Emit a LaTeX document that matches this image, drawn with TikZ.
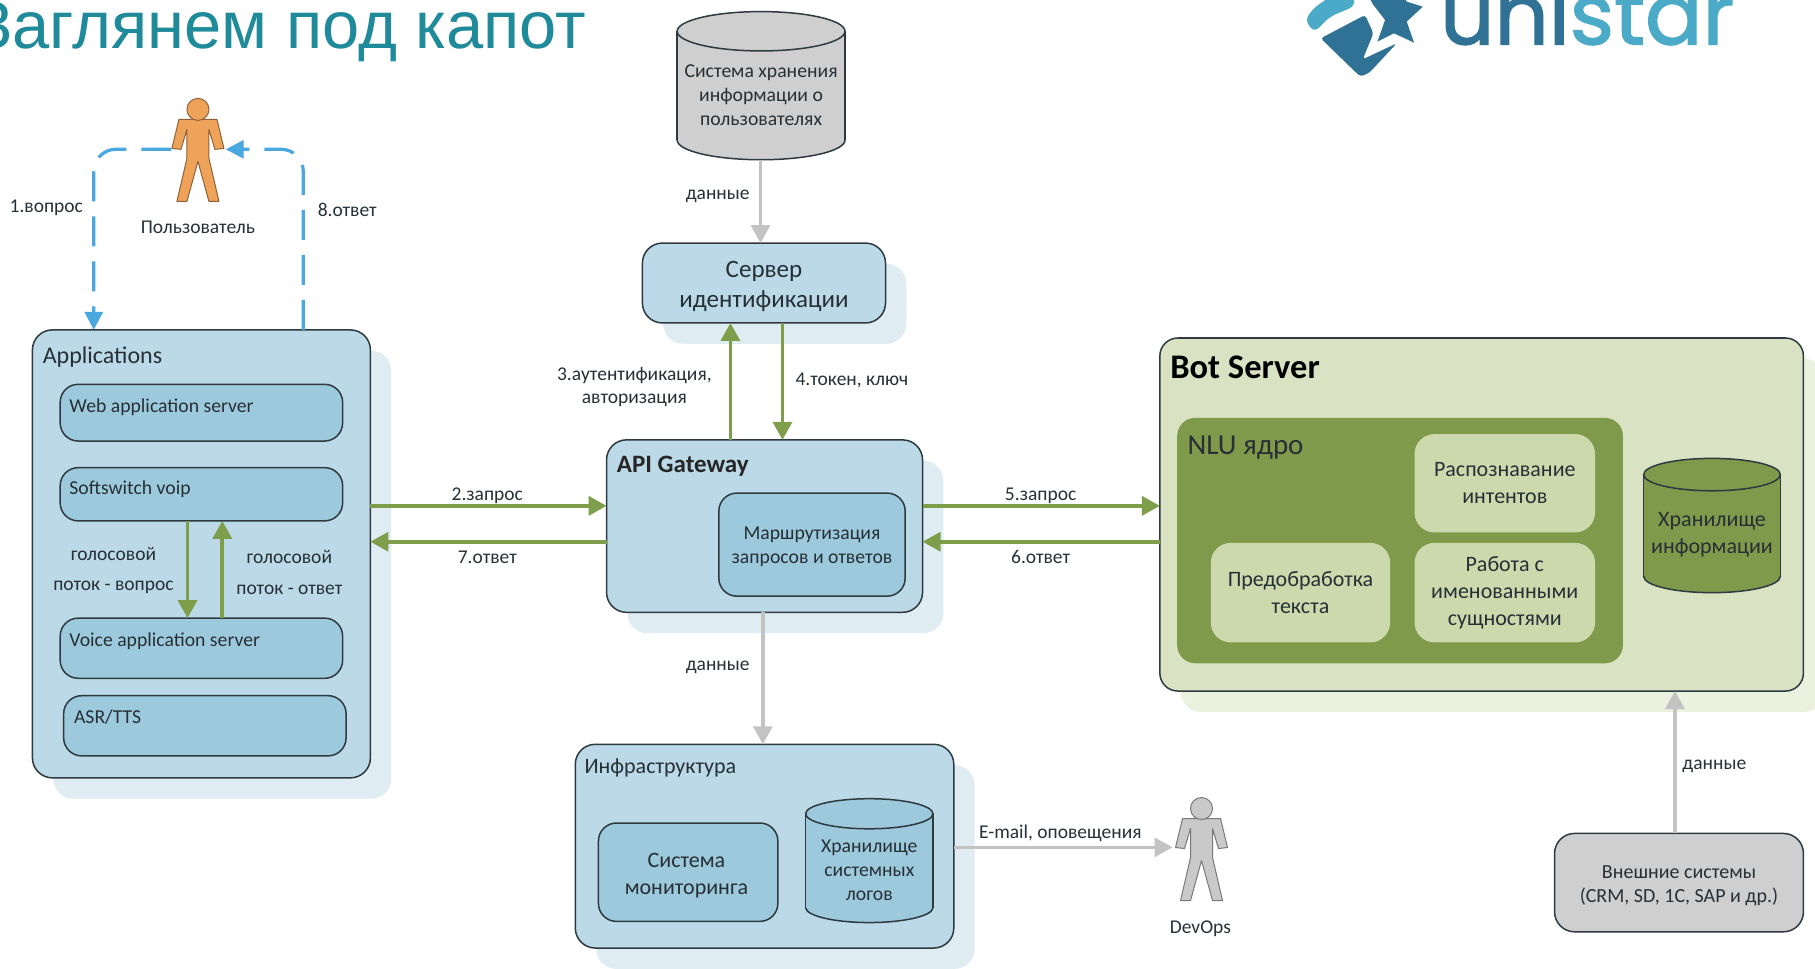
\documentclass[tikz,border=0pt]{standalone}
\usepackage{fontspec}
\setmainfont{Carlito}
\newfontfamily\titlefont{Liberation Sans}
\newfontfamily\logofont[FakeBold=1.6]{Poppins}
\usetikzlibrary{arrows.meta}
\definecolor{bluefill}{HTML}{BBD9E7}
\definecolor{blueinner}{HTML}{9DC9DC}
\definecolor{blueshade}{HTML}{DFECF2}
\definecolor{greenfill}{HTML}{D9E2C3}
\definecolor{greenshade}{HTML}{EBF0DF}
\definecolor{greenmid}{HTML}{7F9A4A}
\definecolor{greenin}{HTML}{CCD9AC}
\definecolor{arrowgreen}{HTML}{7F9E4C}
\definecolor{arrowgray}{HTML}{C3C3C3}
\definecolor{grayfill}{HTML}{CFCFCF}
\definecolor{edge}{HTML}{2E3A40}
\definecolor{ink}{HTML}{263036}
\definecolor{flow}{HTML}{4AA8E0}
\definecolor{titlecol}{HTML}{1E8A9A}
\definecolor{logodark}{HTML}{2F7296}
\definecolor{logolight}{HTML}{4AAAC7}
\definecolor{orangeman}{HTML}{EFA35A}
\definecolor{grayman}{HTML}{C9C9C9}
\newcommand{\fs}[1]{\fontsize{#1}{1.22\dimexpr #1pt\relax}\selectfont}
\tikzset{
  box/.style={draw=edge,line width=1.5pt,rounded corners=20pt,inner sep=0pt,outer sep=0pt,align=center,text=ink},
  outerblue/.style={box,fill=bluefill},
  innerblue/.style={box,fill=blueinner,rounded corners=18pt},
  outergreen/.style={box,fill=greenfill,rounded corners=18pt},
  midgreen/.style={draw=none,fill=greenmid,rounded corners=18pt,inner sep=0pt,outer sep=0pt},
  innergreen/.style={draw=none,fill=greenin,rounded corners=20pt,inner sep=0pt,outer sep=0pt,align=center,text=ink},
  graybox/.style={box,fill=grayfill},
  lbl/.style={inner sep=0pt,outer sep=0pt,text=ink,align=center,font=\fs{19.5},yshift=-1.5pt},
  lefttitle/.style={inner sep=0pt,outer sep=0pt,text=ink,anchor=west,yshift=-2pt},
  greenarrow/.style={draw=arrowgreen,line width=3.6pt,-{Triangle[width=19pt,length=18pt]}},
  grayarrow/.style={draw=arrowgray,line width=3.4pt,-{Triangle[width=19pt,length=18pt]}},
  flowarrow/.style={draw=flow,line width=3.2pt,dash pattern=on 30pt off 15pt,rounded corners=22pt,-{Triangle[width=18pt,length=18pt]}},
  cylline/.style={draw=edge,line width=1.5pt},
  cyltext/.style={inner sep=0pt,outer sep=0pt,align=center,text=ink},
}
% name x1 y1 x2 y2 style text
\newcommand{\bx}[7]{\node[#6,minimum width={(#4-#2)*1.1575pt},minimum height={(#5-#3)*1.1575pt}] (#1) at ({(#2+#4)/2},{(#3+#5)/2}) {#7};}
% shadow x1 y1 x2 y2 colour
\newcommand{\shd}[5]{\fill[#5,rounded corners=20pt] (#1+18,#2+18) rectangle (#3+18,#4+18);}
% cylinder: name x1 y1 x2 y2 ry fill font text
\newcommand{\cyl}[9]{%
  \filldraw[cylline,fill=#7] ({(#2+#4)/2},#5-#6) ellipse [x radius={(#4-#2)*1.1575pt/2},y radius={#6*1.1575pt}];
  \fill[#7] (#2,#3+#6) rectangle (#4,#5-#6);
  \draw[cylline] (#2,#3+#6) -- (#2,#5-#6) (#4,#3+#6) -- (#4,#5-#6);
  \filldraw[cylline,fill=#7] ({(#2+#4)/2},#3+#6) ellipse [x radius={(#4-#2)*1.1575pt/2},y radius={#6*1.1575pt}];
  \node[inner sep=0pt,outer sep=0pt,minimum width={(#4-#2)*1.1575pt},minimum height={(#5-#3)*1.1575pt}] (#1) at ({(#2+#4)/2},{(#3+#5)/2}) {};
  \node[cyltext,font=\fs{#8}] (#1text) at ({(#2+#4)/2},{(#3+#5)/2+8}) {#9};}
% person: cx top fill
\newcommand{\person}[3]{%
  \begin{scope}[shift={(#1,#2)},x=1pt,y=-1pt]
  \filldraw[draw=#3!60!black,line width=1pt,fill=#3,line join=round]
   (-19,21) -- (-26,50) -- (-17,51) -- (-11,31) -- (-11,60) -- (-21,103) -- (-11,103) -- (0,63) -- (11,103) -- (21,103) -- (11,60) -- (11,31) -- (17,51) -- (26,50) -- (19,21) -- cycle;
  \filldraw[draw=#3!60!black,line width=1pt,fill=#3] (0,11) ellipse [x radius=11pt,y radius=11pt];
  \end{scope}}
\begin{document}
\begin{tikzpicture}[x=1.1575pt,y=-1.1575pt]
\useasboundingbox (0,0) rectangle (1568,836.3);
\clip (0,0) rectangle (1568,836.3);
\fill[white] (0,0) rectangle (1568,836.3);

% title
\node[inner sep=0pt,outer sep=0pt,anchor=base west,text=titlecol,font=\titlefont\fs{66.8}] (title) at (-24,42) {Заглянем под капот};

% logo
\begin{scope}[shift={(1114.5,0)},x=0.3333pt,y=-0.3333pt]
  \fill[logolight,rounded corners=6pt] (45,60) -- (70,25) -- (120,-10) -- (190,-10) -- (195,18) -- (120,50) -- (72,97) -- cycle;
  \fill[logodark,rounded corners=3pt] (92,115) -- (225,45) -- (250,100) -- (218,178) -- (320,130) -- (238,218) -- (212,230) -- (195,215) -- cycle;
  \fill[logodark] (236,-10) -- (250,15) -- (285,60) -- (262,125) -- (312,100) -- (372,128) -- (350,65) -- (398,20) -- (350,5) -- (340,-10) -- cycle;
  \node[inner sep=0pt,outer sep=0pt,anchor=base west,font=\logofont\fs{85}] (logo) at (450,133) {\textcolor{logodark}{uni}\textcolor{logolight}{star}};
\end{scope}

% shadows
\shd{28}{285}{320}{672}{blueshade}
\shd{555}{210}{765}{279}{blueshade}
\shd{524}{380}{797}{529}{blueshade}
\shd{497}{643}{824}{819}{blueshade}
\shd{1002}{292}{1558}{597}{greenshade}

% applications
\bx{app}{28}{285}{320}{672}{outerblue}{}
\node[lefttitle,font=\fs{24}] (apptitle) at (37,307) {Applications};
\bx{web}{52}{332}{296}{381}{innerblue}{}
\node[lefttitle,font=\fs{19.7}] (webt) at (60,350) {Web application server};
\bx{soft}{52}{404}{296}{450}{innerblue}{}
\node[lefttitle,font=\fs{19.7}] (softt) at (60,421) {Softswitch voip};
\bx{voice}{52}{534}{296}{586}{innerblue}{}
\node[lefttitle,font=\fs{19.7}] (voicet) at (60,552) {Voice application server};
\bx{asr}{55}{601}{299}{653}{innerblue}{}
\node[lefttitle,font=\fs{19.7}] (asrt) at (64,618) {ASR/TTS};

% id server
\bx{idsrv}{555}{210}{765}{279}{outerblue}{}
\node[cyltext,font=\fs{25}] (idsrvt) at (660,247.5) {Сервер\\идентификации};
% storage
\cyl{userdb}{585}{10}{730}{138}{17}{grayfill}{19.7}{Система хранения\\информации о\\пользователях}
% gateway
\bx{gw}{524}{380}{797}{529}{outerblue}{}
\node[lefttitle,font=\bfseries\fs{25},text=black!85] (gwt) at (533,401) {API Gateway};
\bx{route}{621}{426}{782}{515}{innerblue}{}
\node[cyltext,font=\fs{19.7}] (routet) at (701.5,472.5) {Маршрутизация\\запросов и ответов};
% infra
\bx{infra}{497}{643}{824}{819}{outerblue}{}
\node[lefttitle,font=\fs{22}] (infrat) at (505,662) {Инфраструктура};
\bx{mon}{517}{711}{672}{796}{innerblue}{}
\node[cyltext,font=\fs{22}] (mont) at (593,756.5) {Система\\мониторинга};
\cyl{logs}{696}{690}{806}{797}{13}{blueinner}{19.7}{Хранилище\\системных\\логов}

% bot server
\bx{bot}{1002}{292}{1558}{597}{outergreen}{}
\node[lefttitle,font=\bfseries\fs{34.5},text=black] (bott) at (1011,316) {Bot Server};
\bx{nlu}{1017}{361}{1402}{573}{midgreen}{}
\node[lefttitle,font=\fs{29}] (nlut) at (1026,385) {NLU ядро};
\bx{intent}{1222}{375}{1378}{460}{innergreen,font=\fs{22}}{Распознавание\\интентов}
\bx{prep}{1046}{469}{1201}{555}{innergreen,font=\fs{22}}{Предобработка\\текста}
\bx{ner}{1222}{469}{1378}{555}{innergreen,font=\fs{22}}{Работа с\\именованными\\сущностями}
\cyl{kb}{1420}{396}{1538}{512}{14}{greenmid}{22}{Хранилище\\информации}
\bx{ext}{1343}{720}{1558}{805}{graybox}{}
\node[cyltext,font=\fs{20}] (extt) at (1450.5,765) {Внешние системы\\(CRM, SD, 1C, SAP и др.)};

% people
\person{171}{85}{orangeman}
\node[inner sep=0pt,outer sep=0pt,minimum width=60pt,minimum height=102pt] (user) at (171,129) {};
\node[lbl] (usert) at (171,195) {Пользователь};
\person{1038}{689}{grayman}
\node[inner sep=0pt,outer sep=0pt,minimum width=58pt,minimum height=102pt] (devops) at (1038,734) {};
\node[lbl] (devopst) at (1037,801) {DevOps};

% reference lines
\coordinate (yq) at (0,437);
\coordinate (ya) at (0,468);
\coordinate (xdown) at (162,0);
\coordinate (xup) at (192,0);
\coordinate (x3) at (631,0);
\coordinate (x4) at (676,0);
\coordinate (xgw) at (659,0);
\coordinate (xdb) at (657,0);
\coordinate (xext) at (1447,0);
\coordinate (ymail) at (0,732);
\coordinate (xl) at (81,0);
\coordinate (xr) at (262,0);
\coordinate (ul) at (148,129);
\coordinate (ur) at (195,129);
\coordinate (tl) at (81,129);
\coordinate (tr) at (262,129);

% connectors
\draw[flowarrow] (ul) -- (tl) -- (app.north -| xl);
\draw[flowarrow] (app.north -| xr) -- (tr) -- (ur);
\draw[greenarrow] (app.east |- yq) -- (gw.west |- yq);
\draw[greenarrow] (gw.west |- ya) -- (app.east |- ya);
\draw[greenarrow] (gw.east |- yq) -- (bot.west |- yq);
\draw[greenarrow] (bot.west |- ya) -- (gw.east |- ya);
\draw[greenarrow] (soft.south -| xdown) -- (voice.north -| xdown);
\draw[greenarrow] (voice.north -| xup) -- (soft.south -| xup);
\draw[greenarrow] (gw.north -| x3) -- (idsrv.south -| x3);
\draw[greenarrow] (idsrv.south -| x4) -- (gw.north -| x4);
\draw[grayarrow] (userdb.south -| xdb) -- (idsrv.north -| xdb);
\draw[grayarrow] (gw.south -| xgw) -- (infra.north -| xgw);
\draw[grayarrow] (infra.east |- ymail) -- (devops.west |- ymail);
\draw[grayarrow] (ext.north -| xext) -- (bot.south -| xext);

% labels
\node[lbl] (l1) at (40,178) {1.вопрос};
\node[lbl] (l8) at (300,180) {8.ответ};
\node[lbl] (l2) at (421,427) {2.запрос};
\node[lbl] (l7) at (421,480) {7.ответ};
\node[lbl] (l5) at (899,427) {5.запрос};
\node[lbl] (l6) at (899,480) {6.ответ};
\node[lbl] (l3) at (548,333) {3.аутентификация,\\[-1pt]авторизация};
\node[lbl] (l4) at (736,327) {4.токен, ключ};
\node[lbl] (d1) at (620,168) {данные};
\node[lbl] (d2) at (620,575) {данные};
\node[lbl] (d3) at (1481,661) {данные};
\node[lbl] (mail) at (916,719) {E-mail, оповещения};
\node[lbl] (v1a) at (98,477) {голосовой};
\node[lbl] (v1b) at (98,506) {поток - вопрос};
\node[lbl] (v2a) at (250,480) {голосовой};
\node[lbl] (v2b) at (250,508) {поток - ответ};
\end{tikzpicture}
\end{document}
